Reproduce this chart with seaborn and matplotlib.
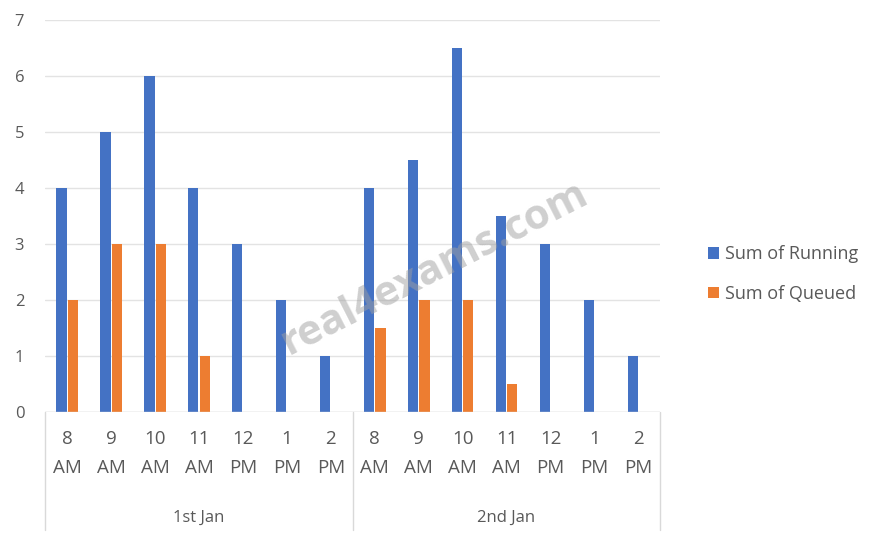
import pandas as pd
import matplotlib.pyplot as plt
import seaborn as sns

dates = ["1st Jan", "2nd Jan"]
hours = ["8\nAM", "9\nAM", "10\nAM", "11\nAM", "12\nPM", "1\nPM", "2\nPM"]
running_jan1 = [4, 5, 6, 4, 3, 2, 1]
queued_jan1 = [2, 3, 3, 1, 0, 0, 0]
running_jan2 = [4, 4.5, 6.5, 3.5, 3, 2, 1]
queued_jan2 = [1.5, 2, 2, 0.5, 0, 0, 0]

series = {
    "Sum of Running": running_jan1 + running_jan2,
    "Sum of Queued": queued_jan1 + queued_jan2,
}
cats = [f"{d} {h}" for d in dates for h in hours]
rows = []
for name, vals in series.items():
    for c, v in zip(cats, vals):
        rows.append({"cat": c, "series": name, "value": v})
df = pd.DataFrame(rows)

sns.set_style("white")
plt.rcParams["font.family"] = ["Open Sans", "DejaVu Sans"]
grey = "#595959"

fig = plt.figure(figsize=(8.7, 5.48), dpi=100)
ax = fig.add_axes([0.052, 0.248, 0.707, 0.7155])

sns.barplot(
    data=df, x="cat", y="value", hue="series", order=cats,
    palette=["#4472C4", "#ED7D31"], saturation=1, width=0.52, gap=0.1,
    linewidth=0, ax=ax, legend=True,
)

ax.set_ylim(0, 7)
ax.set_xlim(-0.5, len(cats) - 0.5)
ax.set_yticks(range(0, 8))
ax.yaxis.grid(True, color="#e3e3e3", linewidth=1)
ax.set_axisbelow(True)
for s in ax.spines.values():
    s.set_visible(False)
ax.set_xlabel("")
ax.set_ylabel("")
ax.set_xticks(range(len(cats)))
ax.set_xticklabels(hours * len(dates), fontsize=13.5, color=grey, linespacing=1.75)
ax.tick_params(axis="x", length=0, pad=13)
ax.tick_params(axis="y", length=0, pad=22, labelsize=12, labelcolor=grey)
for lab in ax.get_yticklabels():
    lab.set_horizontalalignment("left")
ax.axhline(0, color="#d9d9d9", linewidth=1)

trans = ax.get_xaxis_transform()
n = len(hours)
for i in range(len(dates) + 1):
    x = i * n - 0.5
    ax.plot([x, x], [0, -0.30], transform=trans, color="#d9d9d9",
            linewidth=1, clip_on=False)
for i, d in enumerate(dates):
    ax.text(i * n + (n - 1) / 2, -0.27, d, transform=trans, ha="center",
            va="center", fontsize=12, color=grey)

ax.legend(
    loc="center left", bbox_to_anchor=(0.795, 0.50), bbox_transform=fig.transFigure,
    frameon=False, fontsize=13, handlelength=0.6, handleheight=0.6,
    handletextpad=0.35, labelspacing=1.2, labelcolor=grey,
)

fig.text(0.50, 0.51, "real4exams.com", rotation=27, ha="center", va="center",
         fontsize=30, fontweight="bold", color="#a0a0a0", alpha=0.5)

fig.savefig("out.png", dpi=100)
